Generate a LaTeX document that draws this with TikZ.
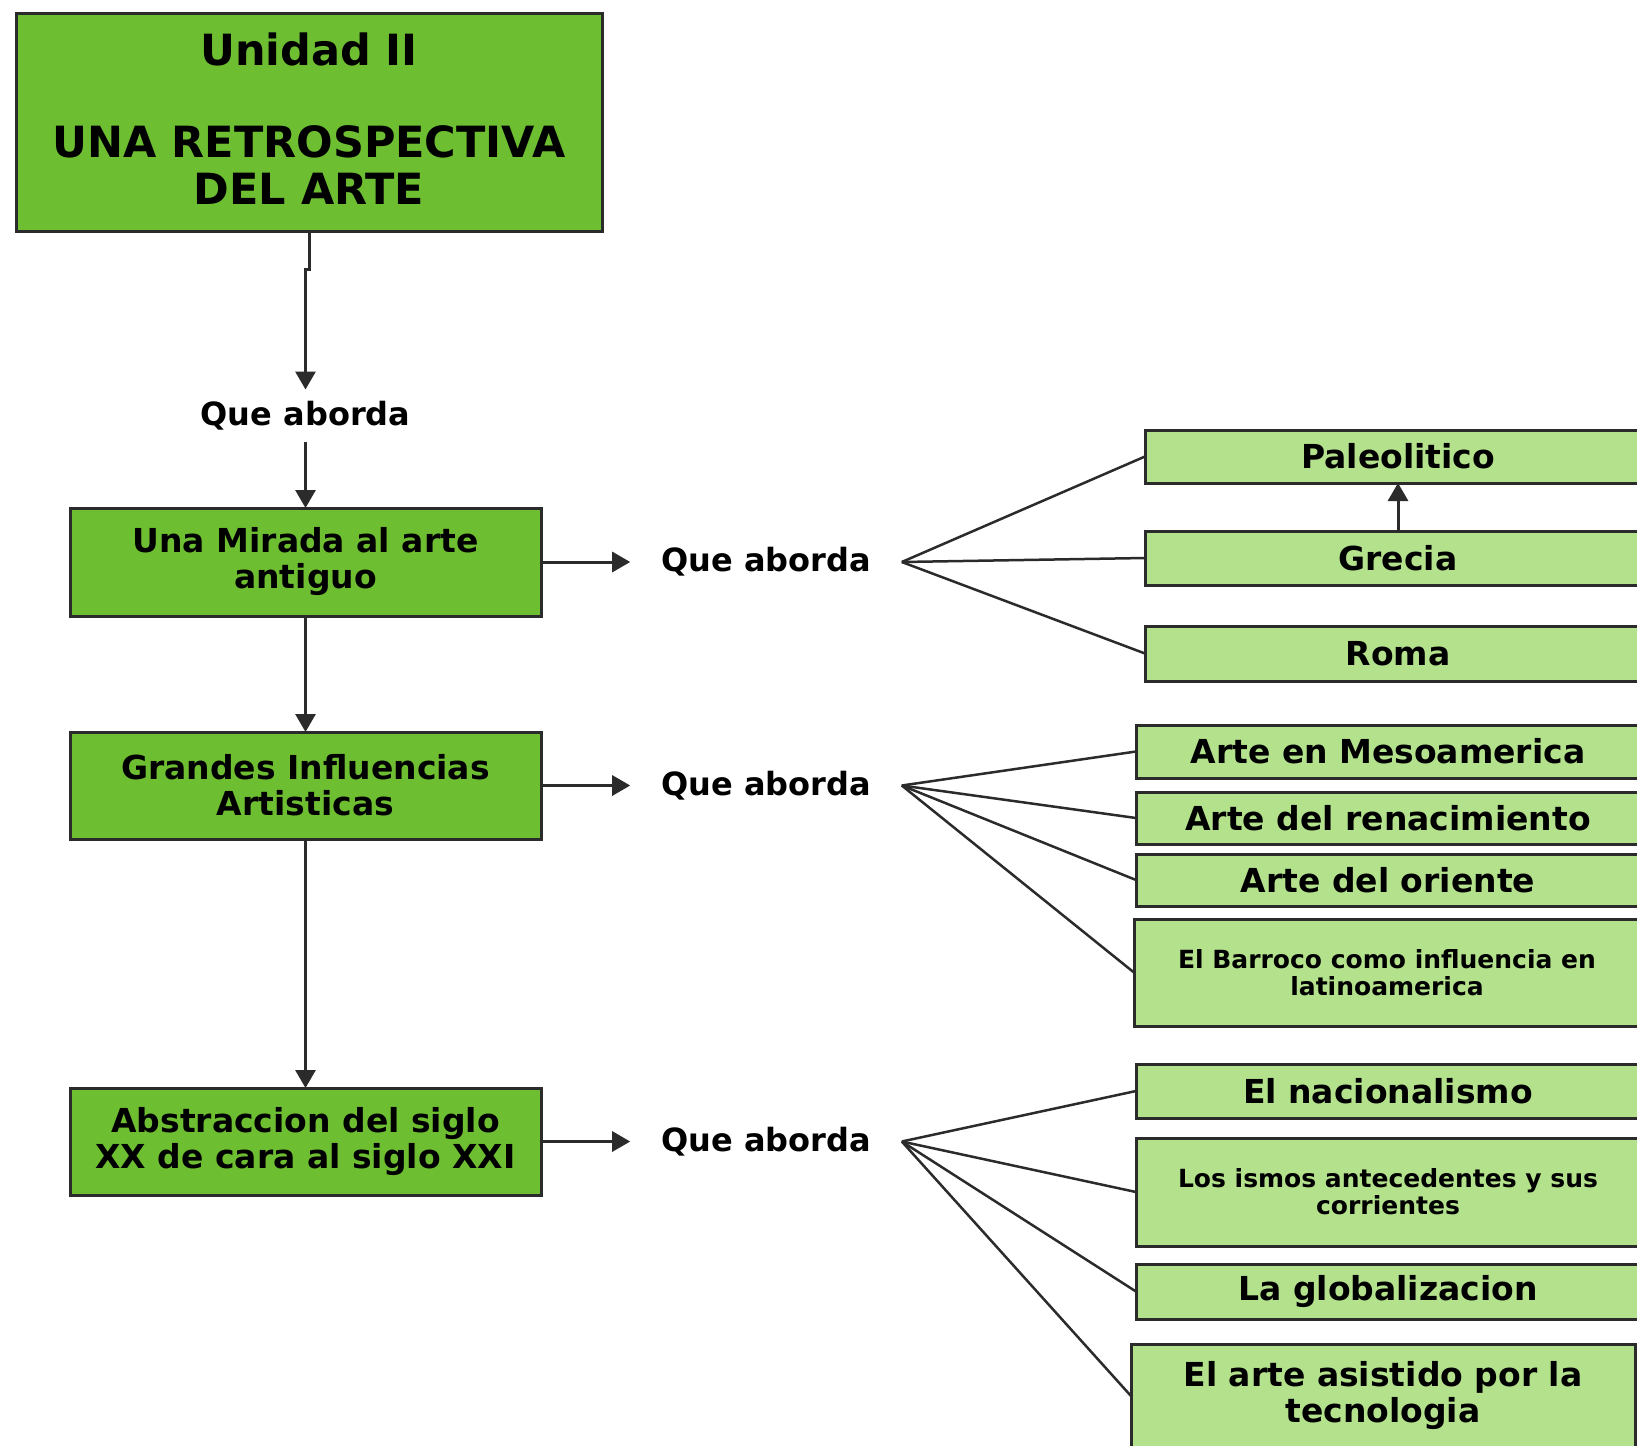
\documentclass[tikz,border=0pt]{standalone}
\usepackage{fontspec}
\setmainfont{DejaVu Sans}
\usetikzlibrary{arrows.meta}

\definecolor{unitgreen}{HTML}{6EBE32}
\definecolor{topicgreen}{HTML}{B4E18C}
\definecolor{edge}{HTML}{2B2B2B}

\begin{document}
\begin{tikzpicture}[
    x=1pt, y=-1pt,
    unit/.style={draw=edge, fill=unitgreen, line width=3pt, anchor=north west, align=center, inner sep=0pt, outer sep=0pt,
        font=\bfseries\fontsize{33}{36}\selectfont},
    topic/.style={draw=edge, fill=topicgreen, line width=3pt, anchor=north west, align=center, inner sep=0pt, outer sep=0pt,
        minimum width=504pt, font=\bfseries\fontsize{33}{36}\selectfont},
    small/.style={font=\bfseries\fontsize{25}{27}\selectfont},
    link/.style={font=\bfseries\fontsize{32}{36}\selectfont, inner xsep=31pt, inner ysep=12pt, outer sep=0pt},
    arr/.style={-{Triangle[length=18pt, width=20pt]}, line width=3pt, draw=edge},
    fan/.style={line width=2.5pt, draw=edge},
]
\useasboundingbox (0, 0) rectangle (1637, 1445);
\clip (0, 0) rectangle (1637, 1445);

\node[unit, minimum width=586pt, minimum height=217pt, font=\bfseries\fontsize{43}{47}\selectfont] (unidad) at (16, 14)
    {Unidad II\\[45pt]UNA RETROSPECTIVA\\DEL ARTE\rule[-8pt]{0pt}{8pt}};

\node[unit, minimum width=471pt, minimum height=108pt] (mirada) at (70, 508) {Una Mirada al arte\\antiguo};
\node[unit, minimum width=471pt, minimum height=107pt] (grandes) at (70, 732) {Grandes Influencias\\Artisticas};
\node[unit, minimum width=471pt, minimum height=107pt] (abstr) at (70, 1088) {Abstraccion del siglo\\XX de cara al siglo XXI};

\node[link] (que0) at (305.5, 416) {Que aborda};
\node[link] (que1) at (766, 562) {Que aborda};
\node[link] (que2) at (766, 785.5) {Que aborda};
\node[link] (que3) at (766, 1141.5) {Que aborda};

\node[topic, minimum width=506pt, minimum height=53pt] (paleo) at (1145, 430) {Paleolitico};
\node[topic, minimum width=506pt, minimum height=54pt] (grecia) at (1145, 531) {Grecia};
\node[topic, minimum width=506pt, minimum height=55pt] (roma) at (1145, 626) {Roma};

\node[topic, minimum height=53pt] (meso) at (1136, 725) {Arte en Mesoamerica};
\node[topic, minimum height=52pt] (renac) at (1136, 792) {Arte del renacimiento};
\node[topic, minimum height=52pt] (oriente) at (1136, 854) {Arte del oriente};
\node[topic, small, minimum width=506pt, minimum height=107pt] (barroco) at (1134, 919) {El Barroco como influencia en\\latinoamerica};

\node[topic, minimum height=54pt] (nacion) at (1136, 1064) {El nacionalismo};
\node[topic, small, minimum height=108pt] (ismos) at (1136, 1138) {Los ismos antecedentes y sus\\corrientes};
\node[topic, minimum height=55pt] (glob) at (1136, 1264) {La globalizacion};
\node[topic, minimum height=104pt] (tecno) at (1131, 1344) {El arte asistido por la\\tecnologia};

\draw[arr] (unidad.south) -- ++(0, 38) -| (que0.north);
\draw[arr] (que0.south) -- (mirada.north);
\draw[arr] (mirada.south) -- (grandes.north);
\draw[arr] (grandes.south) -- (abstr.north);

\draw[arr] (mirada.east) -- (que1.west);
\draw[arr] (grandes.east) -- (que2.west);
\draw[arr] (abstr.east) -- (que3.west);

\foreach \t in {paleo, grecia, roma}
    \draw[fan] (que1.east) -- (\t.west);
\foreach \t in {meso, renac, oriente, barroco}
    \draw[fan] (que2.east) -- (\t.west);
\foreach \t in {nacion, ismos, glob, tecno}
    \draw[fan] (que3.east) -- (\t.west);

\draw[arr] (grecia.north) -- (paleo.south);
\end{tikzpicture}
\end{document}
